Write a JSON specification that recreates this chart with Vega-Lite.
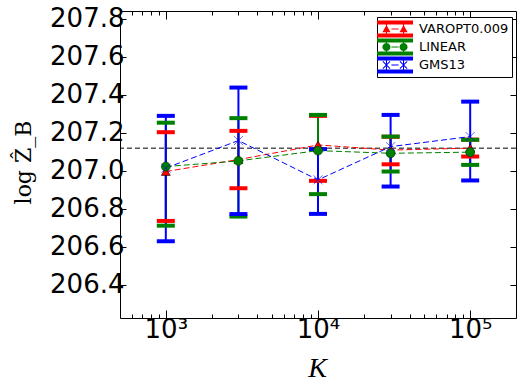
{
  "$schema": "https://vega.github.io/schema/vega-lite/v6.json",
  "width": 396,
  "height": 307,
  "autosize": {"type": "none"},
  "padding": {"left": 120, "top": 11, "right": 7, "bottom": 70},
  "background": "white",
  "config": {
    "view": {"stroke": "black", "strokeWidth": 1},
    "axis": {"grid": false, "domain": false, "labelFont": "DejaVu Sans", "labelFontSize": 26, "labelColor": "black", "tickColor": "black", "tickWidth": 1}
  },
  "datasets": {
    "runs": [
      {"series": "VAROPT0.009", "K": 1000, "y": 206.997, "lo": 206.737, "hi": 207.204},
      {"series": "VAROPT0.009", "K": 3000, "y": 207.06, "lo": 206.909, "hi": 207.211},
      {"series": "VAROPT0.009", "K": 10000, "y": 207.137, "lo": 206.948, "hi": 207.29},
      {"series": "VAROPT0.009", "K": 30000, "y": 207.11, "lo": 207.035, "hi": 207.18},
      {"series": "VAROPT0.009", "K": 100000, "y": 207.12, "lo": 207.076, "hi": 207.165},
      {"series": "LINEAR", "K": 1000, "y": 207.023, "lo": 206.712, "hi": 207.254},
      {"series": "LINEAR", "K": 3000, "y": 207.053, "lo": 206.76, "hi": 207.278},
      {"series": "LINEAR", "K": 10000, "y": 207.107, "lo": 206.878, "hi": 207.295},
      {"series": "LINEAR", "K": 30000, "y": 207.093, "lo": 206.997, "hi": 207.181},
      {"series": "LINEAR", "K": 100000, "y": 207.099, "lo": 207.032, "hi": 207.164},
      {"series": "GMS13", "K": 1000, "y": 207.015, "lo": 206.63, "hi": 207.29},
      {"series": "GMS13", "K": 3000, "y": 207.16, "lo": 206.773, "hi": 207.439},
      {"series": "GMS13", "K": 10000, "y": 206.953, "lo": 206.774, "hi": 207.115},
      {"series": "GMS13", "K": 30000, "y": 207.128, "lo": 206.918, "hi": 207.295},
      {"series": "GMS13", "K": 100000, "y": 207.181, "lo": 206.95, "hi": 207.365}
    ],
    "truth": [{"value": 207.12}]
  },
  "data": {"name": "runs"},
  "resolve": {"axis": {"x": "independent", "y": "independent"}, "scale": {"shape": "independent", "color": "independent"}},
  "layer": [
    {
      "data": {"name": "truth"},
      "mark": {"type": "rule", "color": "black", "strokeDash": [5, 3], "strokeWidth": 1},
      "encoding": {
        "y": {"field": "value", "type": "quantitative", "scale": {"domain": [206.226, 207.842], "nice": false, "zero": false}, "axis": null}
      }
    },
    {
      "mark": {"type": "rule", "strokeWidth": 2},
      "encoding": {
        "x": {"field": "K", "type": "quantitative", "scale": {"type": "log", "domain": [500, 200000], "nice": false},
          "axis": {"orient": "bottom", "values": [600,700,800,900,1000,2000,3000,4000,5000,6000,7000,8000,9000,10000,20000,30000,40000,50000,60000,70000,80000,90000,100000],
            "labelExpr": "datum.value == 1000 ? '10³' : datum.value == 10000 ? '10⁴' : datum.value == 100000 ? '10⁵' : ''",
            "labelOverlap": false, "labelFlush": false, "labelPadding": 6,
            "tickSize": {"condition": {"test": "datum.value == 1000 || datum.value == 10000 || datum.value == 100000", "value": -8}, "value": -4},
            "title": "K", "titleFont": "Liberation Serif", "titleFontStyle": "italic", "titleFontWeight": "normal", "titleFontSize": 28, "titleColor": "black",
            "titleX": 197, "titleY": 58, "titleBaseline": "alphabetic", "titleAlign": "center"}},
        "y": {"field": "lo", "type": "quantitative", "scale": {"domain": [206.226, 207.842], "nice": false, "zero": false},
          "axis": {"orient": "left", "values": [206.4, 206.6, 206.8, 207.0, 207.2, 207.4, 207.6, 207.8], "format": ".1f", "tickSize": -6, "labelPadding": 2,
            "title": "log Ẑ_B", "titleFont": "DejaVu Serif", "titleFontWeight": "normal", "titleFontSize": 22, "titleColor": "black",
            "titleAngle": -90, "titleX": -90, "titleY": 151, "titleBaseline": "alphabetic", "titleAlign": "center"}},
        "y2": {"field": "hi"},
        "color": {"field": "series", "type": "nominal", "scale": {"domain": ["VAROPT0.009", "LINEAR", "GMS13"], "range": ["#ff0000", "#008000", "#0000ff"]}, "legend": null}
      }
    },
    {
      "mark": {"type": "tick", "orient": "horizontal", "thickness": 4, "size": 18, "opacity": 1},
      "encoding": {
        "x": {"field": "K", "type": "quantitative", "scale": {"type": "log", "domain": [500, 200000], "nice": false},
          "axis": {"orient": "top", "values": [600,700,800,900,1000,2000,3000,4000,5000,6000,7000,8000,9000,10000,20000,30000,40000,50000,60000,70000,80000,90000,100000],
            "labels": false, "title": null,
            "tickSize": {"condition": {"test": "datum.value == 1000 || datum.value == 10000 || datum.value == 100000", "value": -8}, "value": -4}}},
        "y": {"field": "lo", "type": "quantitative", "scale": {"domain": [206.226, 207.842], "nice": false, "zero": false},
          "axis": {"orient": "right", "values": [206.4, 206.6, 206.8, 207.0, 207.2, 207.4, 207.6, 207.8], "labels": false, "title": null, "tickSize": -6}},
        "color": {"field": "series", "type": "nominal", "scale": {"domain": ["VAROPT0.009", "LINEAR", "GMS13"], "range": ["#ff0000", "#008000", "#0000ff"]}, "legend": null}
      }
    },
    {
      "mark": {"type": "tick", "orient": "horizontal", "thickness": 4, "size": 18, "opacity": 1},
      "encoding": {
        "x": {"field": "K", "type": "quantitative", "scale": {"type": "log", "domain": [500, 200000], "nice": false}, "axis": null},
        "y": {"field": "hi", "type": "quantitative", "scale": {"domain": [206.226, 207.842], "nice": false, "zero": false}, "axis": null},
        "color": {"field": "series", "type": "nominal", "scale": {"domain": ["VAROPT0.009", "LINEAR", "GMS13"], "range": ["#ff0000", "#008000", "#0000ff"]}, "legend": null}
      }
    },
    {
      "mark": {"type": "line", "strokeDash": [6, 3], "strokeWidth": 1},
      "encoding": {
        "x": {"field": "K", "type": "quantitative", "scale": {"type": "log", "domain": [500, 200000], "nice": false}, "axis": null},
        "y": {"field": "y", "type": "quantitative", "scale": {"domain": [206.226, 207.842], "nice": false, "zero": false}, "axis": null},
        "color": {"field": "series", "type": "nominal", "scale": {"domain": ["VAROPT0.009", "LINEAR", "GMS13"], "range": ["#ff0000", "#008000", "#0000ff"]}, "legend": null}
      }
    },
    {
      "mark": {"type": "point", "filled": true, "opacity": 1},
      "encoding": {
        "x": {"field": "K", "type": "quantitative", "scale": {"type": "log", "domain": [500, 200000], "nice": false}, "axis": null},
        "y": {"field": "y", "type": "quantitative", "scale": {"domain": [206.226, 207.842], "nice": false, "zero": false}, "axis": null},
        "color": {"field": "series", "type": "nominal", "scale": {"domain": ["VAROPT0.009", "LINEAR", "GMS13"], "range": ["#ff0000", "#008000", "#0000ff"]}, "legend": null},
        "shape": {"field": "series", "type": "nominal", "scale": {"domain": ["VAROPT0.009", "LINEAR", "GMS13"], "range": ["triangle-up", "circle", "M-1,-1L1,1M-1,1L1,-1"]}, "legend": null},
        "stroke": {"field": "series", "type": "nominal", "scale": {"domain": ["VAROPT0.009", "LINEAR", "GMS13"], "range": ["#000000", "#003300", "#0000ff"]}, "legend": null},
        "strokeWidth": {"field": "series", "type": "nominal", "scale": {"domain": ["VAROPT0.009", "LINEAR", "GMS13"], "range": [0.6, 0.6, 1.2]}, "legend": null},
        "size": {"field": "series", "type": "nominal", "scale": {"domain": ["VAROPT0.009", "LINEAR", "GMS13"], "range": [80, 81, 110]}, "legend": null}
      }
    },
    {
      "mark": {"type": "point", "filled": true, "opacity": 0},
      "encoding": {
        "x": {"field": "K", "type": "quantitative", "scale": {"type": "log", "domain": [500, 200000], "nice": false}, "axis": null},
        "y": {"field": "y", "type": "quantitative", "scale": {"domain": [206.226, 207.842], "nice": false, "zero": false}, "axis": null},
        "color": {"field": "series", "type": "nominal", "scale": {"domain": ["VAROPT0.009", "LINEAR", "GMS13"], "range": ["#ff0000", "#008000", "#0000ff"]},
          "legend": {"title": null, "orient": "none", "legendX": 257, "legendY": 6, "strokeColor": "black", "fillColor": "white", "padding": 3, "cornerRadius": 0,
            "symbolSize": 324, "symbolOffset": 6, "symbolStrokeWidth": 0, "symbolOpacity": 1, "labelFont": "DejaVu Sans", "labelFontSize": 13, "labelColor": "black", "labelOffset": 15, "rowPadding": 0}},
        "shape": {"field": "series", "type": "nominal", "scale": {"domain": ["VAROPT0.009", "LINEAR", "GMS13"], "range": [
          "M-2,-0.95H2V-0.5H-2Z M-2,0.5H2V0.95H-2Z M-1.01,-0.5H-0.89V0.5H-1.01Z M0.89,-0.5H1.01V0.5H0.89Z M-0.4,-0.05H0.4V0.05H-0.4Z M-0.95,-0.45L-0.5,0.35L-1.4,0.35Z M0.95,-0.45L1.4,0.35L0.5,0.35Z",
          "M-2,-0.95H2V-0.5H-2Z M-2,0.5H2V0.95H-2Z M-1.01,-0.5H-0.89V0.5H-1.01Z M0.89,-0.5H1.01V0.5H0.89Z M-0.4,-0.05H0.4V0.05H-0.4Z M-0.5,0A0.45,0.45 0 1 1 -1.4,0A0.45,0.45 0 1 1 -0.5,0Z M1.4,0A0.45,0.45 0 1 1 0.5,0A0.45,0.45 0 1 1 1.4,0Z",
          "M-2,-0.95H2V-0.5H-2Z M-2,0.5H2V0.95H-2Z M-1.01,-0.5H-0.89V0.5H-1.01Z M0.89,-0.5H1.01V0.5H0.89Z M-0.4,-0.05H0.4V0.05H-0.4Z M-1.308,-0.442L-0.508,0.358L-0.592,0.442L-1.392,-0.358Z M-1.308,0.442L-1.392,0.358L-0.592,-0.442L-0.508,-0.358Z M0.592,-0.442L1.392,0.358L1.308,0.442L0.508,-0.358Z M0.592,0.442L0.508,0.358L1.308,-0.442L1.392,-0.358Z"
        ]},
          "legend": {"title": null, "orient": "none", "legendX": 257, "legendY": 6, "strokeColor": "black", "fillColor": "white", "padding": 3, "cornerRadius": 0,
            "symbolSize": 324, "symbolOffset": 6, "symbolStrokeWidth": 0, "symbolOpacity": 1, "labelFont": "DejaVu Sans", "labelFontSize": 13, "labelColor": "black", "labelOffset": 15, "rowPadding": 0}}
      }
    }
  ]
}
